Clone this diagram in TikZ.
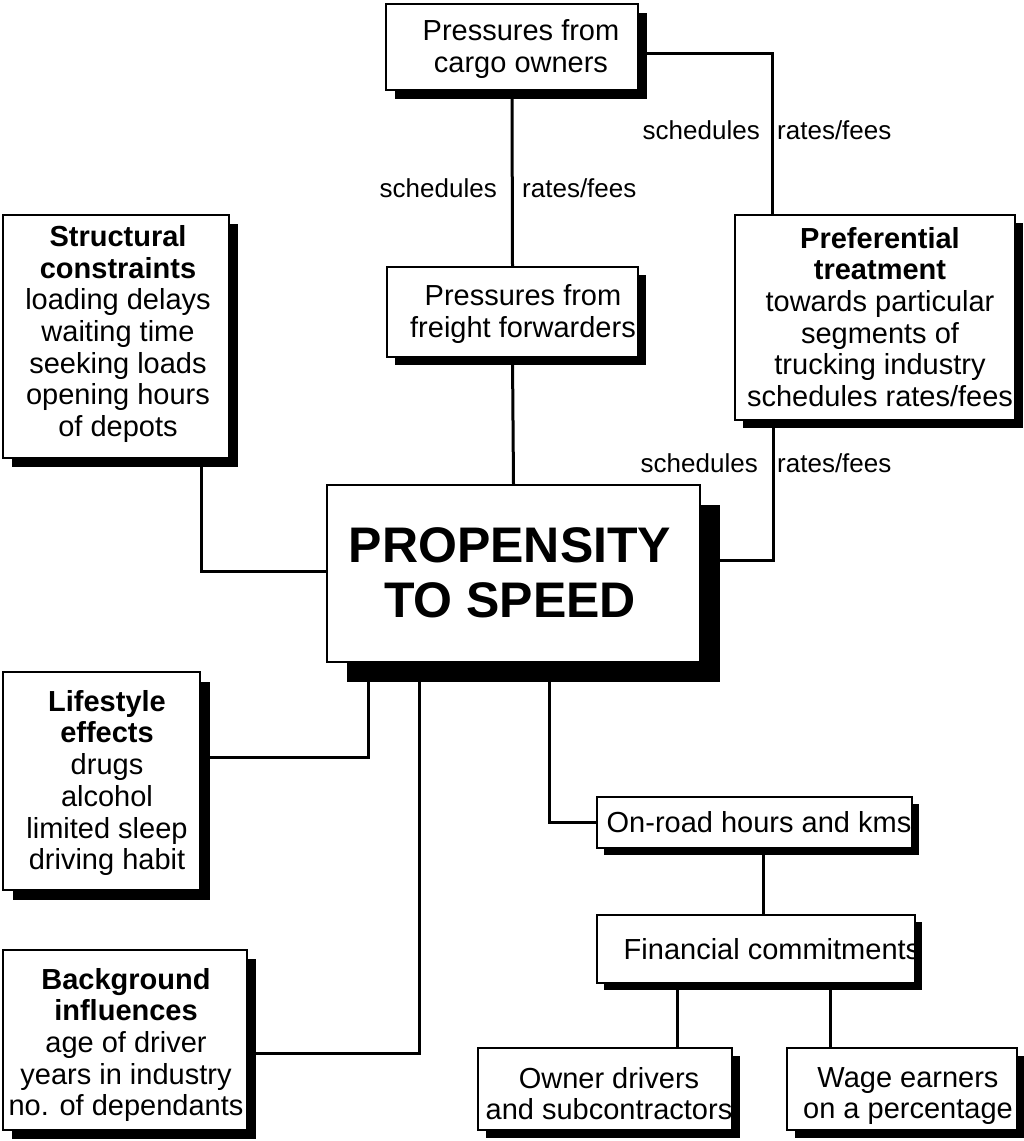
\documentclass[tikz,border=0pt]{standalone}
\usepackage{fontspec}
\setmainfont{Liberation Sans}
\usetikzlibrary{shadows,backgrounds}

\tikzset{
  box/.style={draw, line width=2pt, fill=white, inner sep=0pt,
    drop shadow={shadow xshift=#1, shadow yshift=-#1, opacity=1, fill=black}},
  box/.default=9pt,
  txt/.style={align=center, inner sep=0pt, font=\fontsize{29}{31.7}\selectfont},
  big/.style={align=center, inner sep=0pt, font=\bfseries\fontsize{50}{55}\selectfont},
  lbl/.style={inner sep=0pt, font=\fontsize{26}{28}\selectfont},
  link/.style={line width=3pt},
}

\begin{document}
\begin{tikzpicture}[x=1pt,y=-1pt]
  \useasboundingbox (0,0) rectangle (1024,1141);

  % Kästen
  \node[box, minimum width=252, minimum height=86] (cargo) at (512,47) {};
  \node[box=8pt, minimum width=251, minimum height=90] (freight) at (512.5,312) {};
  \node[box, minimum width=226, minimum height=243] (struct) at (116,336.5) {};
  \node[box=8pt, minimum width=280, minimum height=205] (pref) at (875,317.5) {};
  \node[box=20pt, minimum width=373, minimum height=177] (prop) at (513.5,573.5) {};
  \node[box=10pt, minimum width=197, minimum height=218] (life) at (101.5,781) {};
  \node[box, minimum width=244, minimum height=180] (back) at (125,1040) {};
  \node[box=7pt, minimum width=315, minimum height=51] (onroad) at (754.5,822.5) {};
  \node[box=7pt, minimum width=318, minimum height=68] (fin) at (756,949) {};
  \node[box=8pt, minimum width=254, minimum height=82] (owner) at (605,1089) {};
  \node[box=8pt, minimum width=230, minimum height=82] (wage) at (902,1089) {};

  % Texte
  \node[txt] (cargo-t) at (521,49) {Pressures from\\cargo owners};
  \node[txt] (freight-t) at (523,314) {Pressures from\\freight forwarders};
  \node[txt] (struct-t) at (118,334) {\textbf{Structural}\\\textbf{constraints}\\loading delays\\waiting time\\seeking loads\\opening hours\\of depots};
  \node[txt] (pref-t) at (880,317) {\textbf{Preferential}\\\textbf{treatment}\\towards particular\\segments of\\trucking industry\\schedules rates/fees};
  \node[big] (prop-t) at (510,573) {PROPENSITY\\TO SPEED};
  \node[txt] (life-t) at (107,783) {\textbf{Lifestyle}\\\textbf{effects}\\drugs\\alcohol\\limited sleep\\driving habit};
  \node[txt] (back-t) at (126,1045) {\textbf{Background}\\\textbf{influences}\\age of driver\\years in industry\\no. of dependants};
  \node[txt] (onroad-t) at (759,822) {On-road hours and kms};
  \node[txt] (fin-t) at (772,949) {Financial commitments};
  \node[txt, anchor=north] (owner-t) at (609,1067) {Owner drivers\\and subcontractors};
  \node[txt, anchor=north] (wage-t) at (908,1067) {Wage earners\\on a percentage};

  % Beschriftungen
  \node[lbl, anchor=east] (sched1) at (497,188) {schedules};
  \node[lbl, anchor=west] (rates1) at (522,188) {rates/fees};
  \node[lbl, anchor=east] (sched2) at (760,130) {schedules};
  \node[lbl, anchor=west] (rates2) at (777,130) {rates/fees};
  \node[lbl, anchor=east] (sched3) at (758,463) {schedules};
  \node[lbl, anchor=west] (rates3) at (777,463) {rates/fees};

  % Verbindungen
  \begin{pgfonlayer}{background}
    \coordinate (jTop) at (772,53);
    \coordinate (jPref) at (773,560);
    \coordinate (jStr) at (201,571);
    \coordinate (jLife) at (368,757);
    \coordinate (jBack) at (419,1053);
    \coordinate (jRoad) at (549,822);
    \coordinate (jFin) at (763,900);
    \coordinate (jOwn) at (677,1000);
    \coordinate (jWage) at (830,1000);
    \draw[link] (cargo.east |- jTop) -- (jTop) -- (jTop |- pref.north);
    \draw[link] (cargo.south) -- (freight.north);
    \draw[link] (freight.south) -- (prop.north);
    \draw[link] (jPref |- pref.south) -- (jPref) -- (prop.east |- jPref);
    \draw[link] (jStr |- struct.south) -- (jStr) -- (prop.west |- jStr);
    \draw[link] (jLife |- prop.south) -- (jLife) -- (life.east |- jLife);
    \draw[link] (jBack |- prop.south) -- (jBack) -- (back.east |- jBack);
    \draw[link] (jRoad |- prop.south) -- (jRoad) -- (onroad.west |- jRoad);
    \draw[link] (jFin |- onroad.south) -- (jFin |- fin.north);
    \draw[link] (jOwn |- fin.south) -- (jOwn |- owner.north);
    \draw[link] (jWage |- fin.south) -- (jWage |- wage.north);
  \end{pgfonlayer}
\end{tikzpicture}
\end{document}
